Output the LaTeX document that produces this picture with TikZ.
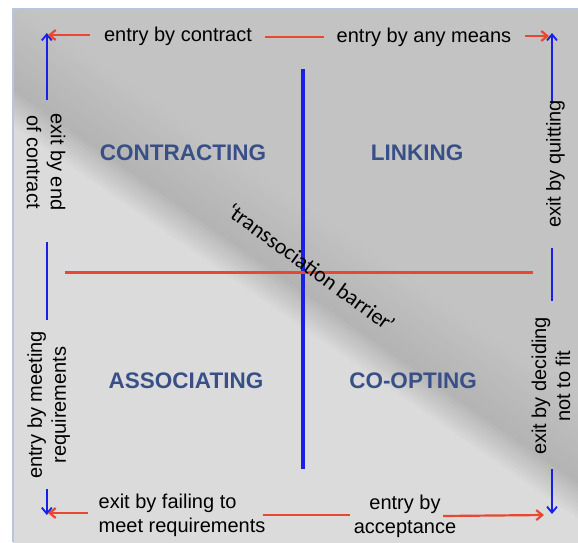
\documentclass[tikz,border=0pt]{standalone}
\usepackage{fontspec}
\setmainfont{Liberation Sans}
\newfontfamily\barrierfont{Carlito}
\usetikzlibrary{arrows.meta}
\definecolor{bgBase}{RGB}{195,195,195}
\definecolor{bgDark}{RGB}{180,180,180}
\definecolor{bgLight}{RGB}{219,219,219}
\definecolor{frameBlue}{RGB}{180,198,224}
\definecolor{arrRed}{RGB}{232,72,50}
\definecolor{arrBlue}{RGB}{24,32,230}
\definecolor{quadBlue}{RGB}{56,80,135}
\begin{document}
\begin{tikzpicture}[x=1pt,y=-1pt,
  side/.style={font=\fontsize{20}{24}\selectfont, inner sep=0pt, align=center},
  quad/.style={font=\fontsize{22.5}{27}\selectfont\bfseries, text=quadBlue, inner sep=0pt},
  barb/.style={-{Straight Barb[length=6pt,width=10pt]}},
  redline/.style={draw=arrRed, line width=2.2pt},
  redarrow/.style={redline, barb},
  blueline/.style={draw=arrBlue, line width=1.8pt},
  bluearrow/.style={blueline, barb},
  axisblue/.style={draw=arrBlue, line width=3.2pt},
  axisred/.style={draw=arrRed, line width=3pt}]
\useasboundingbox (0,0) rectangle (578,542);
\fill[white] (0,0) rectangle (578,542);
% background with diagonal gradient
\begin{scope}
  \clip (13,9) rectangle (578,542);
  \fill[bgBase] (13,9) rectangle (578,542);
  \begin{scope}[shift={(66,124)}, rotate=-34.8]
    \foreach \k in {0,...,19}{
      \pgfmathtruncatemacro\p{5*(19-\k)}
      \fill[bgBase!\p!bgDark] (-300,0) rectangle (1000,{-(20-\k)*3.5});
    }
    \foreach \i in {0,...,10}{
      \pgfmathtruncatemacro\q{10*\i}
      \fill[bgLight!\q!bgDark] (-300,{\i*3.2}) rectangle (1000,800);
    }
  \end{scope}
\end{scope}
\draw[frameBlue, line width=1.5pt] (13,542) -- (13,9) -- (578,9);

% coordinates
\coordinate (tlTip) at (46.8,33);
\coordinate (tlTail) at (46.8,100);
\coordinate (trTip) at (552,33);
\coordinate (trTail) at (552,103);
\coordinate (blTip) at (46.8,515);
\coordinate (blTail) at (46.8,489);
\coordinate (brTip) at (552,514);
\coordinate (brTail) at (552,469);
\coordinate (lsA) at (46.8,242);
\coordinate (lsB) at (46.8,320);
\coordinate (rsA) at (552,248);
\coordinate (rsB) at (552,301);
\coordinate (rTLtail) at (90,35);
\coordinate (rTLtip) at (48,35);
\coordinate (rTmA) at (265,37);
\coordinate (rTmB) at (324,37);
\coordinate (rTRtail) at (525,36);
\coordinate (rTRtip) at (549,36);
\coordinate (rBLtail) at (88,513);
\coordinate (rBLtip) at (48,513);
\coordinate (rBmA) at (263,515);
\coordinate (rBmB) at (350,515);
\coordinate (rBRtail) at (443,516);
\coordinate (rBRtip) at (544,515);
\coordinate (vTop) at (303,69);
\coordinate (vBot) at (303,469);
\coordinate (hL) at (64.5,272);
\coordinate (hR) at (532.6,272);

% axes
\draw[axisblue] (vTop) -- (vBot);
\draw[axisred] (hL) -- (hR);

% side connectors
\draw[bluearrow] (tlTail) -- (tlTip);
\draw[bluearrow] (trTail) -- (trTip);
\draw[bluearrow] (blTail) -- (blTip);
\draw[bluearrow] (brTail) -- (brTip);
\draw[blueline] (lsA) -- (lsB);
\draw[blueline] (rsA) -- (rsB);
\draw[redarrow] (rTLtail) -- (rTLtip);
\draw[redline] (rTmA) -- (rTmB);
\draw[redarrow] (rTRtail) -- (rTRtip);
\draw[redarrow] (rBLtail) -- (rBLtip);
\draw[redline] (rBmA) -- (rBmB);
\draw[redarrow] (rBRtail) -- (rBRtip);

% side texts
\node[side] (ebc) at (178,36) {entry by contract};
\node[side] (eam) at (424,37) {entry by any means};
\node[side, rotate=-90] (eec) at (46,162) {exit by end\\of contract};
\node[side, rotate=90] (ebm) at (48.7,405) {entry by meeting\\requirements};
\node[side, rotate=90] (ebq) at (555.5,164) {exit by quitting};
\node[side, rotate=90] (edf) at (551,386) {exit by deciding\\not to fit};
\node[side, align=left] (efr) at (182,515) {exit by failing to\\meet requirements};
\node[side] (eac) at (405,516) {entry by\\acceptance};

% quadrants
\node[quad] (con) at (183,153) {CONTRACTING};
\node[quad] (lin) at (417,153) {LINKING};
\node[quad] (ass) at (186,381) {ASSOCIATING};
\node[quad] (coo) at (413,381) {CO-OPTING};

% barrier
\node[font=\barrierfont\fontsize{22}{26}\selectfont, rotate=-36, inner sep=0pt] (bar) at (311,267) {‘transsociation barrier\kern-1.2pt’};
\end{tikzpicture}
\end{document}
